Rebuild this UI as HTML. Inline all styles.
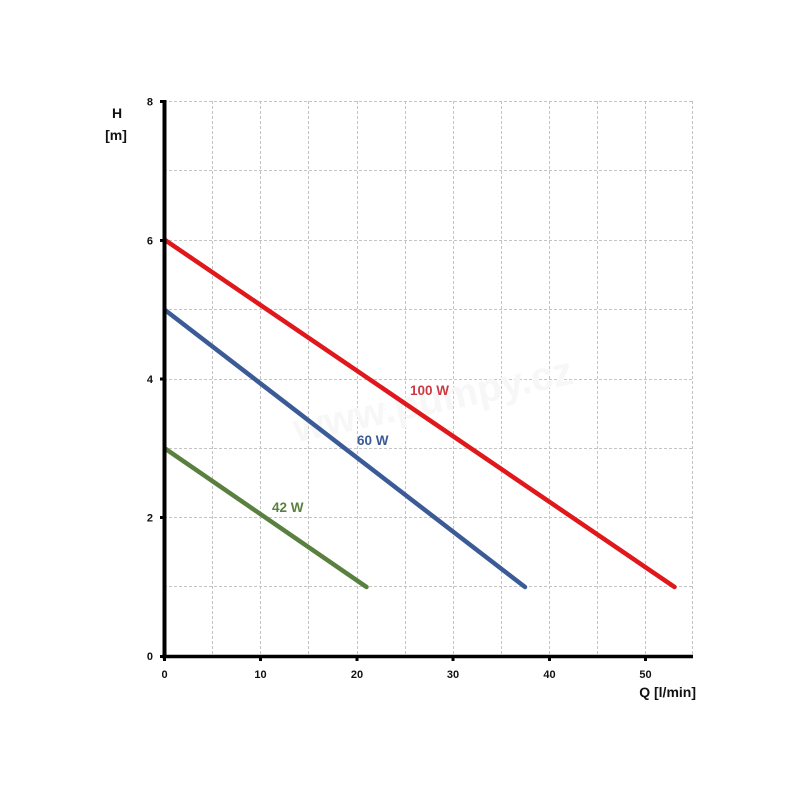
<!DOCTYPE html>
<html><head><meta charset="utf-8"><style>
html,body{margin:0;padding:0;background:#fff;}
svg{display:block;}
text{font-family:"Liberation Sans",sans-serif;font-weight:bold;}
</style></head><body>
<svg width="800" height="800" viewBox="0 0 800 800" xmlns="http://www.w3.org/2000/svg">
<rect width="800" height="800" fill="#fff"/>
<g stroke="#c4c4c4" stroke-width="1" stroke-dasharray="3,2" fill="none">
<line x1="164" y1="101.5" x2="693" y2="101.5"/>
<line x1="164" y1="170.5" x2="693" y2="170.5"/>
<line x1="164" y1="240.5" x2="693" y2="240.5"/>
<line x1="164" y1="309.5" x2="693" y2="309.5"/>
<line x1="164" y1="379.5" x2="693" y2="379.5"/>
<line x1="164" y1="448.5" x2="693" y2="448.5"/>
<line x1="164" y1="517.5" x2="693" y2="517.5"/>
<line x1="164" y1="586.5" x2="693" y2="586.5"/>
<line x1="212.5" y1="101" x2="212.5" y2="656"/>
<line x1="260.5" y1="101" x2="260.5" y2="656"/>
<line x1="308.5" y1="101" x2="308.5" y2="656"/>
<line x1="357.5" y1="101" x2="357.5" y2="656"/>
<line x1="405.5" y1="101" x2="405.5" y2="656"/>
<line x1="453.5" y1="101" x2="453.5" y2="656"/>
<line x1="501.5" y1="101" x2="501.5" y2="656"/>
<line x1="549.5" y1="101" x2="549.5" y2="656"/>
<line x1="597.5" y1="101" x2="597.5" y2="656"/>
<line x1="645.5" y1="101" x2="645.5" y2="656"/>
<line x1="692.5" y1="101" x2="692.5" y2="656"/>
</g>
<text x="290" y="420" font-size="40" fill="#f7f7f7" transform="rotate(-12 400 400)">www.pumpy.cz</text>
<g stroke-linecap="round" stroke-width="4.5" fill="none">
<line x1="165" y1="240" x2="674.5" y2="587" stroke="#e0171b"/>
<line x1="165" y1="310" x2="525" y2="587" stroke="#3b5b96"/>
<line x1="165" y1="448.5" x2="366.5" y2="587" stroke="#5a8040"/>
</g>
<line x1="164.5" y1="100" x2="164.5" y2="658" stroke="#000" stroke-width="4"/>
<line x1="162" y1="656.5" x2="693" y2="656.5" stroke="#000" stroke-width="3.5"/>
<g stroke="#000" stroke-width="3">
<line x1="160" y1="101.5" x2="164" y2="101.5"/>
<line x1="160" y1="240.5" x2="164" y2="240.5"/>
<line x1="160" y1="379" x2="164" y2="379"/>
<line x1="160" y1="517.5" x2="164" y2="517.5"/>
<line x1="160" y1="656.5" x2="164" y2="656.5"/>
<line x1="164.5" y1="656" x2="164.5" y2="661"/>
<line x1="260.5" y1="656" x2="260.5" y2="661"/>
<line x1="357" y1="656" x2="357" y2="661"/>
<line x1="453" y1="656" x2="453" y2="661"/>
<line x1="549.5" y1="656" x2="549.5" y2="661"/>
<line x1="645.5" y1="656" x2="645.5" y2="661"/>
</g>
<g font-size="11" fill="#111" text-anchor="end">
<text x="153" y="105.5">8</text>
<text x="153" y="244.5">6</text>
<text x="153" y="383">4</text>
<text x="153" y="521.5">2</text>
<text x="153" y="660">0</text>
</g>
<g font-size="11" fill="#111" text-anchor="middle">
<text x="164.5" y="678">0</text>
<text x="260.5" y="678">10</text>
<text x="357" y="678">20</text>
<text x="453" y="678">30</text>
<text x="549.5" y="678">40</text>
<text x="645.5" y="678">50</text>
</g>
<text x="117" y="118" font-size="14" fill="#111" text-anchor="middle">H</text>
<text x="116" y="140" font-size="14" fill="#111" text-anchor="middle">[m]</text>
<text x="696" y="697" font-size="14" fill="#111" text-anchor="end">Q [l/min]</text>
<text x="410" y="395" font-size="13.5" fill="#cc3a44">100 W</text>
<text x="357" y="445" font-size="13.5" fill="#3b5b96">60 W</text>
<text x="272" y="512" font-size="13.5" fill="#5a8040">42 W</text>
</svg>
</body></html>
